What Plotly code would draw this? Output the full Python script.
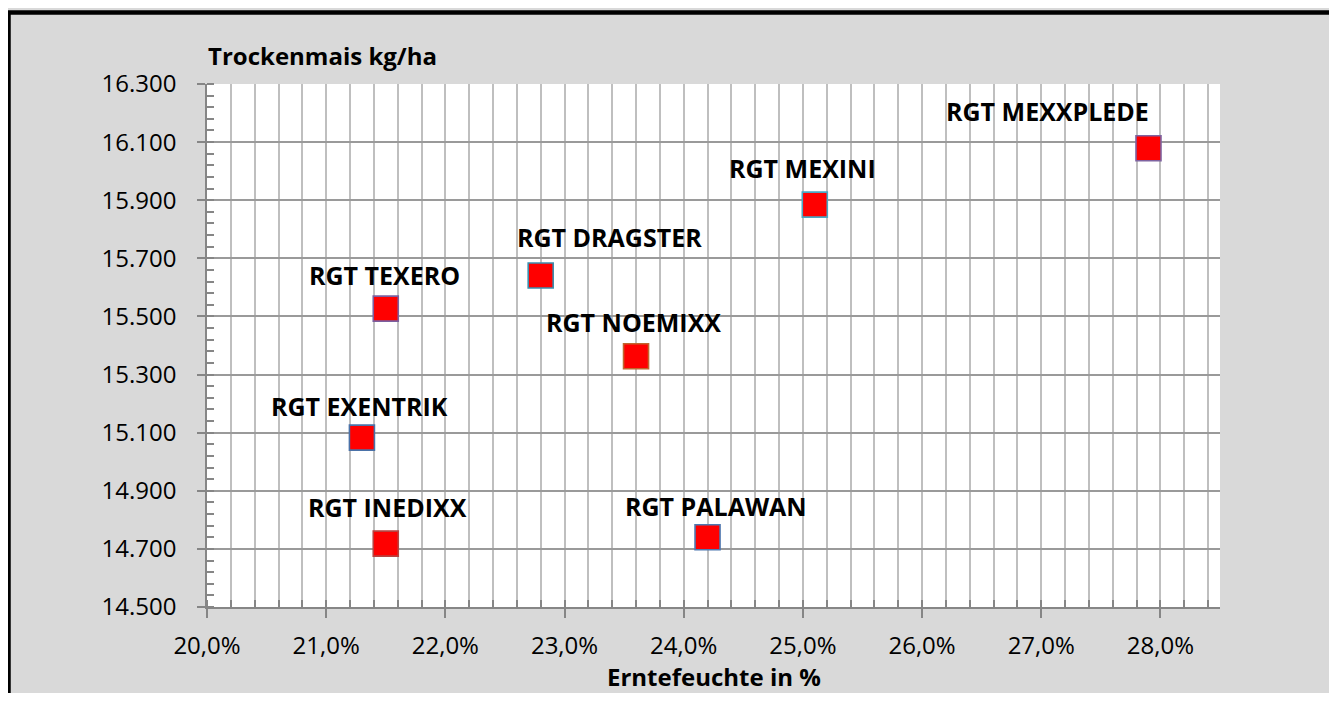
import plotly.graph_objects as go

# ---- data ----
varieties = ["RGT EXENTRIK", "RGT INEDIXX", "RGT TEXERO", "RGT DRAGSTER",
             "RGT NOEMIXX", "RGT MEXINI", "RGT MEXXPLEDE", "RGT PALAWAN"]
moisture = [0.213, 0.215, 0.215, 0.228, 0.236, 0.251, 0.279, 0.242]
yield_kg = [15083, 14718, 15527, 15641, 15363, 15885, 16079, 14740]
x_title = "Erntefeuchte in %"
y_title = "Trockenmais kg/ha"

# ---- styles ----
edge_colors = ["#4a72a8", "#b8423f", "#7b5f9f", "#3b8fae",
               "#c0662e", "#4aa7c2", "#7f63a0", "#4f78b0"]
label_anchor = ["center", "left", "center", "center", "center", "center", "right", "left"]
label_dx = [-2, -80, -1, 69, -3, -12, 3, -85]
label_dy = [32, 37, 34, 38, 34, 37, 37, 31]

W, H = 1329, 685
ML, MR, MT, MB = 199, 117, 76, 86
PW, PH = W - ML - MR, H - MT - MB


def px(x):
    return (x - ML) / PW


def py(y):
    return (H - MB - y) / PH


FONT = "Open Sans"

fig = go.Figure()
fig.add_trace(go.Scatter(
    x=moisture, y=yield_kg, mode="markers",
    marker=dict(symbol="square", size=25, color="#ff0000",
                line=dict(color=edge_colors, width=1.6)),
    hoverinfo="skip", showlegend=False,
))

annotations = []
for name, xv, yv, anc, dx, dy in zip(varieties, moisture, yield_kg,
                                     label_anchor, label_dx, label_dy):
    annotations.append(dict(
        x=xv, y=yv, xref="x", yref="y", text=name, showarrow=False,
        xanchor=anc, yanchor="middle", xshift=dx, yshift=dy,
        font=dict(family=FONT, size=25, color="#000000", weight="bold"),
    ))

annotations.append(dict(
    x=px(198), y=py(47), xref="paper", yref="paper", text=y_title,
    showarrow=False, xanchor="left", yanchor="middle",
    font=dict(family=FONT, size=24, color="#000000", weight="bold"),
))
annotations.append(dict(
    x=px(ML + PW / 2), y=py(668), xref="paper", yref="paper", text=x_title,
    showarrow=False, xanchor="center", yanchor="middle",
    font=dict(family=FONT, size=24, color="#000000", weight="bold"),
))

shapes = [
    dict(type="rect", xref="paper", yref="paper", layer="above",
         x0=px(-5), x1=px(W + 5), y0=py(0), y1=py(-10),
         fillcolor="#ffffff", line=dict(width=0)),
    dict(type="rect", xref="paper", yref="paper", layer="above",
         x0=px(0.5), x1=px(1325), y0=py(4.5), y1=py(720),
         fillcolor="rgba(0,0,0,0)", line=dict(color="#000000", width=4.5)),
]

fig.update_layout(
    width=W, height=H,
    margin=dict(l=ML, r=MR, t=MT, b=MB, pad=0),
    paper_bgcolor="#d9d9d9", plot_bgcolor="#ffffff",
    separators=",.",
    font=dict(family=FONT, size=24, color="#000000"),
    annotations=annotations, shapes=shapes,
    xaxis=dict(
        range=[0.20, 0.285], tick0=0.20, dtick=0.01, tickformat=".1%",
        showline=True, linecolor="#868686", linewidth=1.5,
        ticks="outside", ticklen=9, tickwidth=1.5, tickcolor="#868686",
        showgrid=True, gridcolor="#bfbfbf", gridwidth=1.5,
        zeroline=False, ticklabelstandoff=7,
        minor=dict(dtick=0.002, tick0=0.20, ticks="inside", ticklen=7,
                   tickwidth=1.5, tickcolor="#868686",
                   showgrid=True, gridcolor="#bfbfbf", gridwidth=1.5),
        tickfont=dict(family=FONT, size=24, color="#000000"),
    ),
    yaxis=dict(
        range=[14500, 16300], tick0=14500, dtick=200, tickformat=",d",
        showline=True, linecolor="#868686", linewidth=1.5,
        ticks="outside", ticklen=8, tickwidth=1.5, tickcolor="#868686",
        showgrid=True, gridcolor="#9a9a9a", gridwidth=1.5,
        zeroline=False, ticklabelstandoff=16,
        minor=dict(dtick=40, tick0=14500, ticks="inside", ticklen=7,
                   tickwidth=1.5, tickcolor="#868686", showgrid=False),
        tickfont=dict(family=FONT, size=24, color="#000000"),
    ),
)

fig.write_html("out.html")
